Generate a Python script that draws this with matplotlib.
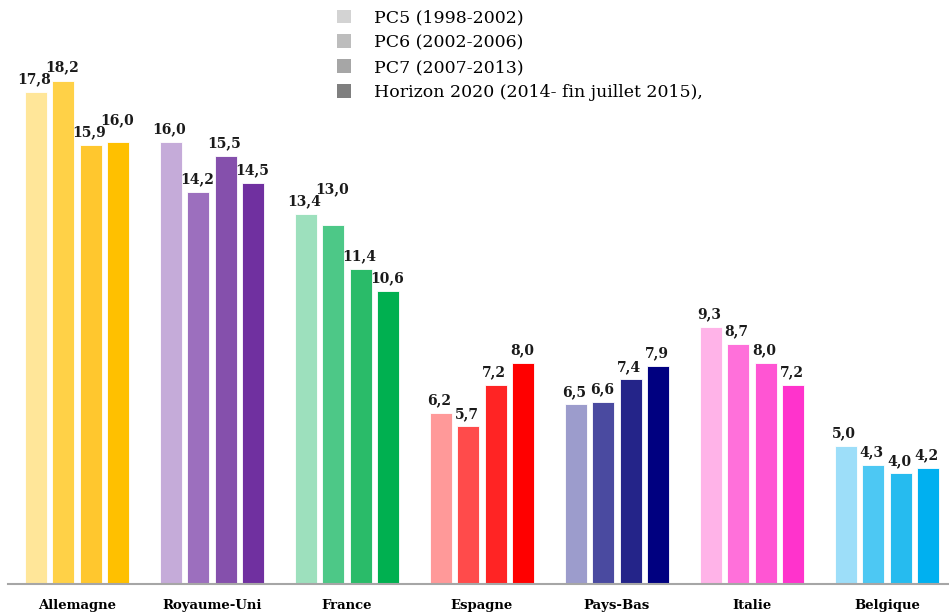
import numpy as np
import matplotlib
matplotlib.use("Agg")
import matplotlib.pyplot as plt
from matplotlib.patches import Patch

countries = ["Allemagne", "Royaume-Uni", "France", "Espagne", "Pays-Bas", "Italie", "Belgique"]
programmes = ["PC5 (1998-2002)", "PC6 (2002-2006)", "PC7 (2007-2013)",
              "Horizon 2020 (2014- fin juillet 2015),"]

# share per country, one list per programme
pc5 = [17.8, 16.0, 13.4, 6.2, 6.5, 9.3, 5.0]
pc6 = [18.2, 14.2, 13.0, 5.7, 6.6, 8.7, 4.3]
pc7 = [15.9, 15.5, 11.4, 7.2, 7.4, 8.0, 4.0]
h2020 = [16.0, 14.5, 10.6, 8.0, 7.9, 7.2, 4.2]
series = [pc5, pc6, pc7, h2020]

# colour ramp per country (light -> dark, one per programme)
country_colors = [
    ["#FFE699", "#FFD147", "#FFC72E", "#FFC000"],
    ["#C5ABD9", "#9C6FBE", "#8550AC", "#7030A0"],
    ["#9DE0BD", "#4DC887", "#2ABB69", "#00B050"],
    ["#FF9999", "#FF4B4B", "#FF2424", "#FF0000"],
    ["#9C9CCC", "#4A4AA0", "#242489", "#000080"],
    ["#FFB3E8", "#FF70DA", "#FF55D3", "#FF33CC"],
    ["#9DDEF9", "#4DC8F3", "#26BBEF", "#00B0F0"],
]
legend_colors = ["#D3D3D3", "#BDBDBD", "#A6A6A6", "#7F7F7F"]

serif = ["DejaVu Serif"]
DPI = 100

fig = plt.figure(figsize=(9.49, 6.15), dpi=DPI)
ax = fig.add_axes([8 / 949, 31 / 615, 941 / 949, 584 / 615])

x = np.arange(len(countries))
step = 0.204
width = 0.163
labels = [[None] * len(series) for _ in countries]
for j, vals in enumerate(series):
    offs = (j - 1.5) * step
    cols = [c[j] for c in country_colors]
    bars = ax.bar(x + offs, vals, width, color=cols, edgecolor="white", linewidth=0.6)
    for i, (b, v) in enumerate(zip(bars, vals)):
        labels[i][j] = ax.annotate(f"{v:.1f}".replace(".", ","),
                                   (b.get_x() + b.get_width() / 2, v),
                                   xytext=(-1, 4), textcoords="offset points",
                                   ha="center", va="bottom", fontsize=10,
                                   fontweight="bold", family=serif, color="#1a1a1a")

ax.set_xlim(-0.51, 6.46)
ax.set_ylim(0, 21.13)
ax.set_xticks(x)
ax.set_xticklabels(countries, fontsize=9.5, fontweight="bold", family=serif)
ax.tick_params(axis="x", length=0, pad=11)
ax.set_yticks([])
for s in ["top", "left", "right"]:
    ax.spines[s].set_visible(False)
ax.spines["bottom"].set_color("#A6A6A6")
ax.spines["bottom"].set_linewidth(1.5)

# labels can be wider than the bar pitch: lift a label above its left
# neighbour when the two collide
fig.canvas.draw()
renderer = fig.canvas.get_renderer()
for row in labels:
    for j in range(1, len(row)):
        bb = row[j].get_window_extent(renderer)
        pb = row[j - 1].get_window_extent(renderer)
        if bb.overlaps(pb):
            lift = pb.y1 - bb.y0 - 2
            dx, dy = row[j].xyann
            row[j].xyann = (dx, dy + lift * 72 / DPI)

handles = [Patch(facecolor=c, edgecolor="none") for c in legend_colors]
fig.legend(handles, programmes, loc="upper left", bbox_to_anchor=(321 / 949, 1.01),
           frameon=False, handlelength=0.85, handleheight=0.85, handletextpad=1.3,
           labelspacing=0.45, prop={"family": serif, "size": 12.5})

fig.savefig("out.png", dpi=DPI)
